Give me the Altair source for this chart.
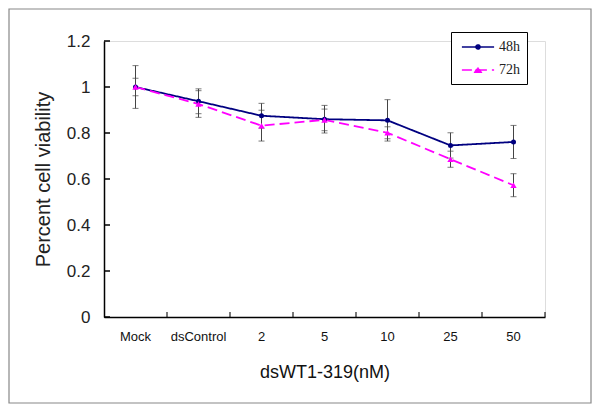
import altair as alt
import pandas as pd

# ---- data ----
categories = ["Mock", "dsControl", "2", "5", "10", "25", "50"]
series_names = ["48h", "72h"]
mean_48h = [1.0, 0.938, 0.875, 0.86, 0.855, 0.746, 0.761]
err_48h = [0.093, 0.054, 0.054, 0.06, 0.09, 0.055, 0.072]
mean_72h = [1.0, 0.926, 0.832, 0.857, 0.801, 0.686, 0.573]
err_72h = [0.038, 0.058, 0.067, 0.047, 0.026, 0.035, 0.05]
y_ticks = [0, 0.2, 0.4, 0.6, 0.8, 1.0, 1.2]
colors = ["#000080", "#FF00FF"]

rows = []
for s, means, errs in [("48h", mean_48h, err_48h), ("72h", mean_72h, err_72h)]:
    for c, m, e in zip(categories, means, errs):
        rows.append({"dose": c, "series": s, "mean": m, "lo": m - e, "hi": m + e})
df = pd.DataFrame(rows)
cat_df = pd.DataFrame({"dose": categories})
ytick_df = pd.DataFrame({"v": y_ticks})

FONT = "Liberation Sans"

x_axis = alt.Axis(
    title="dsWT1-319(nM)", labelAngle=0, ticks=False, grid=False,
    domainColor="black", domainWidth=1.5,
    labelFont=FONT, labelFontSize=13, labelColor="#111", labelPadding=13,
    titleFont=FONT, titleFontSize=18, titleFontWeight="normal",
    titleColor="#111", titlePadding=20,
)
x_scale = alt.Scale(type="band", paddingInner=0, paddingOuter=0)
x_enc = alt.X("dose:N", sort=categories, scale=x_scale, axis=x_axis)

y_axis = alt.Axis(
    title="Percent cell viability", values=y_ticks, format="~g", ticks=False,
    grid=False, domainColor="black", domainWidth=1.5,
    labelFont=FONT, labelFontSize=17, labelColor="#222", labelPadding=14,
    titleFont=FONT, titleFontSize=20, titleFontWeight="normal",
    titleColor="#222", titlePadding=13,
)
y_scale = alt.Scale(domain=[0, 1.2], nice=False, zero=True)

color_scale = alt.Scale(domain=series_names, range=colors)
dash_scale = alt.Scale(domain=series_names, range=[[1, 0], [10, 5]])
fill_scale = alt.Scale(domain=series_names, range=colors)

path48 = "M-2.3,0L2.3,0M-0.3,0A0.3,0.3,0,1,0,0.3,0A0.3,0.3,0,1,0,-0.3,0Z"
path72 = "M-2.3,0L2.3,0M-0.45,0.32L0.45,0.32L0,-0.45Z"
shape_scale = alt.Scale(domain=series_names, range=[path48, path72])

legend = alt.Legend(
    title=None, orient="none", legendX=347, legendY=-9, padding=7,
    strokeColor="black", fillColor="white", cornerRadius=0,
    symbolSize=196, symbolStrokeWidth=1.5, symbolOffset=12, labelOffset=13,
    rowPadding=8, labelFont="Liberation Serif", labelFontSize=14,
    labelColor="#222", symbolOpacity=1,
)

frame = alt.Chart(pd.DataFrame({"f": [0]})).mark_rect(
    fill="transparent", stroke="#888888", strokeWidth=1.2
).encode(x=alt.value(-95), x2=alt.value(487), y=alt.value(-32), y2=alt.value(362))

lines = alt.Chart(df).mark_line(strokeWidth=1.8).encode(
    x=x_enc,
    y=alt.Y("mean:Q", scale=y_scale, axis=y_axis),
    color=alt.Color("series:N", scale=color_scale, legend=legend),
    strokeDash=alt.StrokeDash("series:N", scale=dash_scale, legend=legend),
)

pts48 = alt.Chart(df).transform_filter("datum.series == '48h'").mark_point(
    shape="circle", filled=True, size=25, color=colors[0], opacity=1
).encode(x=x_enc, y=alt.Y("mean:Q", scale=y_scale, axis=y_axis))

pts72 = alt.Chart(df).transform_filter("datum.series == '72h'").mark_point(
    shape="triangle-up", filled=True, size=40, color=colors[1], opacity=1
).encode(x=x_enc, y=alt.Y("mean:Q", scale=y_scale, axis=y_axis))

err_rule = alt.Chart(df).mark_rule(color="#444444", strokeWidth=1).encode(
    x=x_enc, y=alt.Y("lo:Q", scale=y_scale, axis=y_axis), y2="hi:Q"
)
cap_lo = alt.Chart(df).mark_tick(orient="horizontal", size=6, thickness=1, color="#444444").encode(
    x=x_enc, y=alt.Y("lo:Q", scale=y_scale, axis=y_axis)
)
cap_hi = alt.Chart(df).mark_tick(orient="horizontal", size=6, thickness=1, color="#444444").encode(
    x=x_enc, y=alt.Y("hi:Q", scale=y_scale, axis=y_axis)
)

# inward axis ticks
xticks = alt.Chart(cat_df).mark_tick(
    orient="vertical", size=5, thickness=1.5, color="black", yOffset=-2.5
).encode(
    x=alt.X("dose:N", sort=categories, bandPosition=1, scale=x_scale, axis=x_axis),
    y=alt.datum(0),
)
yticks = alt.Chart(ytick_df).mark_rule(color="black", strokeWidth=1.5).encode(
    y=alt.Y("v:Q", scale=y_scale, axis=y_axis), x=alt.value(0), x2=alt.value(6)
)

legend_layer = alt.Chart(df).mark_point(
    filled=False, size=196, strokeWidth=1.5, opacity=0
).encode(
    x=x_enc,
    y=alt.Y("mean:Q", scale=y_scale, axis=y_axis),
    color=alt.Color("series:N", scale=color_scale, legend=legend),
    fill=alt.Fill("series:N", scale=fill_scale, legend=legend),
    shape=alt.Shape("series:N", scale=shape_scale, legend=legend),
    strokeDash=alt.StrokeDash("series:N", scale=dash_scale, legend=legend),
)

chart = alt.layer(
    frame, lines, err_rule, cap_lo, cap_hi, pts48, pts72, xticks, yticks, legend_layer
).properties(
    width=441, height=276,
    padding={"left": 96, "top": 33, "right": 47, "bottom": 87},
    autosize="none",
).configure_view(strokeWidth=0).configure(background="white")

chart.save("out.html", embed_options={"renderer": "svg", "actions": False})
